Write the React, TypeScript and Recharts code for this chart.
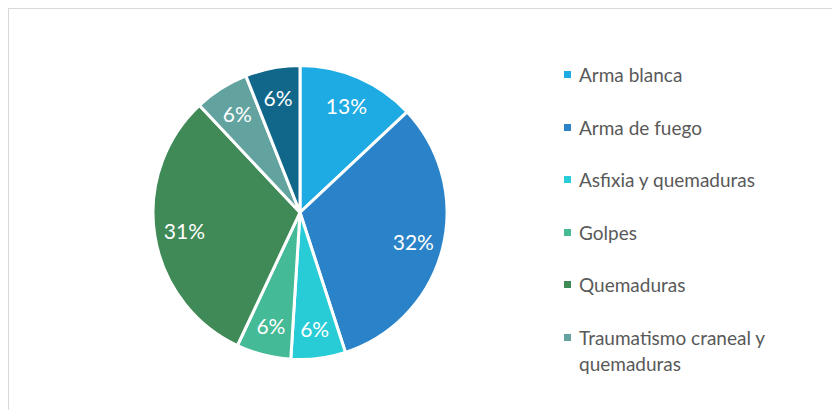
import { PieChart, Pie, Cell, Legend } from "recharts";

// causas y porcentajes, empezando arriba y en sentido horario
const causas = [
  "Arma blanca",
  "Arma de fuego",
  "Asfixia y quemaduras",
  "Golpes",
  "Quemaduras",
  "Traumatismo craneal y quemaduras",
  "Otros",
];
const porcentajes = [13, 32, 6, 6, 31, 6, 6];
const colores = ["#1EAAE2", "#2A83C8", "#28CCD6", "#44BA96", "#3F8A56", "#62A3A0", "#10678A"];
// la leyenda original solo deja ver las seis primeras
const enLeyenda = 6;

const data = causas.map((name, i) => ({ name, value: porcentajes[i] }));

const RADIAN = Math.PI / 180;
const FONT = "Lato, 'Open Sans', sans-serif";

const renderLabel = (props: any) => {
  const { cx, cy, midAngle, value } = props;
  const r = 117;
  const x = cx + r * Math.cos(-midAngle * RADIAN);
  const y = cy + r * Math.sin(-midAngle * RADIAN);
  return (
    <text x={x} y={y} fill="#fff" textAnchor="middle" dominantBaseline="central" fontSize={21} fontFamily={FONT}>
      {`${value}%`}
    </text>
  );
};

const renderLegend = (props: any) => {
  // recharts ordena la leyenda alfabéticamente; volvemos al orden de los datos
  const items = [...(props.payload || [])]
    .sort((a: any, b: any) => causas.indexOf(a.value) - causas.indexOf(b.value))
    .slice(0, enLeyenda);
  return (
    <ul style={{ listStyle: "none", margin: 0, padding: 0, fontFamily: FONT }}>
      {items.map((entry: any, i: number) => (
        <li key={`l-${i}`} style={{ display: "flex", alignItems: "flex-start", height: 52.5 }}>
          <span style={{ display: "inline-block", width: 7, height: 7, background: entry.color, marginTop: 9, marginRight: 8, flexShrink: 0 }} />
          <span style={{ fontSize: 19, color: "#595959", lineHeight: "26px", width: 230 }}>{entry.value}</span>
        </li>
      ))}
    </ul>
  );
};

export default function App() {
  return (
    <div
      style={{
        width: 832,
        height: 402,
        boxSizing: "border-box",
        borderTop: "1px solid #D9D9D9",
        borderLeft: "1px solid #D9D9D9",
        overflow: "hidden",
        background: "#fff",
      }}
    >
      <PieChart width={831} height={401} margin={{ top: 0, right: 0, bottom: 0, left: 0 }}>
        <Pie
          data={data}
          dataKey="value"
          nameKey="name"
          cx={291}
          cy={203.5}
          outerRadius={147}
          startAngle={90}
          endAngle={-270}
          stroke="#fff"
          strokeWidth={3}
          label={renderLabel}
          labelLine={false}
          isAnimationActive={false}
        >
          {data.map((_, i) => (
            <Cell key={`c-${i}`} fill={colores[i]} />
          ))}
        </Pie>
        <Legend
          layout="vertical"
          align="right"
          verticalAlign="top"
          content={renderLegend}
          wrapperStyle={{ left: 555, top: 53, width: 270 }}
        />
      </PieChart>
    </div>
  );
}
